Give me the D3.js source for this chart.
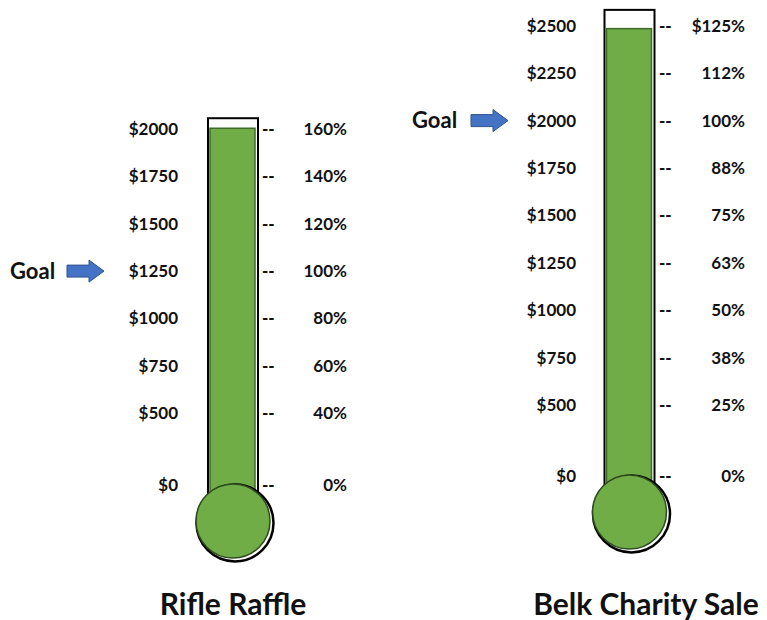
<!DOCTYPE html>
<html lang="en">
<head>
<meta charset="UTF-8">
<title>Fundraising Thermometers</title>
<script src="https://d3js.org/d3.v7.min.js"></script>
<style>
  body { margin: 0; background: #fff; }
  svg { display: block; font-family: Lato, "Open Sans", sans-serif; }
</style>
</head>
<body>
<svg width="767" height="620"></svg>
<script>
// data
const campaigns = ["Rifle Raffle", "Belk Charity Sale"];
const raised = [2005, 2485];
const goals = [1250, 2000];
const tubeTop = [2058, 2584];
const dollarTicks = [
  [0, 500, 750, 1000, 1250, 1500, 1750, 2000],
  [0, 500, 750, 1000, 1250, 1500, 1750, 2000, 2250, 2500]
];
const pctLabels = [
  ["0%", "40%", "60%", "80%", "100%", "120%", "140%", "160%"],
  ["0%", "25%", "38%", "50%", "63%", "75%", "88%", "100%", "112%", "$125%"]
];

// layout (pixels)
const layout = [
  { cx: 233, y0: 485, y500: 413, step: 47.3, labelX: 178, dashX: 262, pctX: 347, goalX: 10, arrowX: 67, titleX: 233 },
  { cx: 629.5, y0: 476, y500: 405, step: 47.4, labelX: 576, dashX: 659, pctX: 745, goalX: 412, arrowX: 471, titleX: 646 }
];
const tubeW = 50, bulbR = 38;

let svg = d3.select("svg");

campaigns.forEach(function (name, i) {
  let L = layout[i];
  let top = d3.max(dollarTicks[i]);
  // piecewise scale: the $0 - $500 gap is shorter than the rest
  let y = d3.scaleLinear()
    .domain([0, 500, top])
    .range([L.y0, L.y500, L.y500 - (top - 500) / 250 * L.step]);
  // extend past top tick
  let yTop = y(top) - (tubeTop[i] - top) / 250 * L.step;
  let yFill = y(top) - (raised[i] - top) / 250 * L.step;
  let bulbCy = L.y0 + 36;
  let g = svg.append("g");

  // tube outline
  g.append("rect")
    .attr("x", L.cx - tubeW / 2).attr("y", yTop)
    .attr("width", tubeW).attr("height", bulbCy - yTop)
    .attr("fill", "#fff").attr("stroke", "#000").attr("stroke-width", 2);

  // green fill
  g.append("rect")
    .attr("x", L.cx - tubeW / 2 + 2).attr("y", yFill)
    .attr("width", tubeW - 5).attr("height", bulbCy - yFill)
    .attr("fill", "#70AD47").attr("stroke", "#3f6a28").attr("stroke-width", 1.5);

  // bulb with shadow ring
  g.append("circle")
    .attr("cx", L.cx + 2).attr("cy", bulbCy + 2).attr("r", bulbR + 0.5)
    .attr("fill", "#fff").attr("stroke", "#000").attr("stroke-width", 2.5);
  g.append("circle")
    .attr("cx", L.cx).attr("cy", bulbCy).attr("r", bulbR - 1)
    .attr("fill", "#70AD47").attr("stroke", "#2e4a1e").attr("stroke-width", 1.5);

  // dollar labels
  g.selectAll(".dl").data(dollarTicks[i]).enter().append("text")
    .attr("x", L.labelX).attr("y", function (d) { return y(d); })
    .attr("dy", "0.35em").attr("text-anchor", "end")
    .style("font-size", "17px").style("font-weight", "bold").attr("fill", "#111")
    .text(function (d) { return "$" + d; });

  // dashes
  g.selectAll(".ds").data(dollarTicks[i]).enter().append("text")
    .attr("x", L.dashX).attr("y", function (d) { return y(d); })
    .attr("dy", "0.35em")
    .style("font-size", "17px").style("font-weight", "900").attr("fill", "#111")
    .text("--");

  // percent labels
  g.selectAll(".pl").data(dollarTicks[i]).enter().append("text")
    .attr("x", L.pctX).attr("y", function (d) { return y(d); })
    .attr("dy", "0.35em").attr("text-anchor", "end")
    .style("font-size", "17px").style("font-weight", "bold").attr("fill", "#111")
    .text(function (d, j) { return pctLabels[i][j]; });

  // goal marker
  let gy = y(goals[i]);
  g.append("text")
    .attr("x", L.goalX).attr("y", gy).attr("dy", "0.35em")
    .style("font-size", "22px").style("font-weight", "bold").attr("fill", "#111")
    .text("Goal");
  let ax = L.arrowX;
  g.append("path")
    .attr("d", "M" + ax + "," + (gy - 6) + "H" + (ax + 22) + "V" + (gy - 11) +
      "L" + (ax + 37) + "," + gy + "L" + (ax + 22) + "," + (gy + 11) +
      "V" + (gy + 6) + "H" + ax + "Z")
    .attr("fill", "#4472C4").attr("stroke", "#2F528F").attr("stroke-width", 1);

  // title
  g.append("text")
    .attr("x", L.titleX).attr("y", 604).attr("dy", "0.35em")
    .attr("text-anchor", "middle")
    .style("font-size", "30px").style("font-weight", "bold").attr("fill", "#111")
    .text(name);
});
</script>
</body>
</html>
